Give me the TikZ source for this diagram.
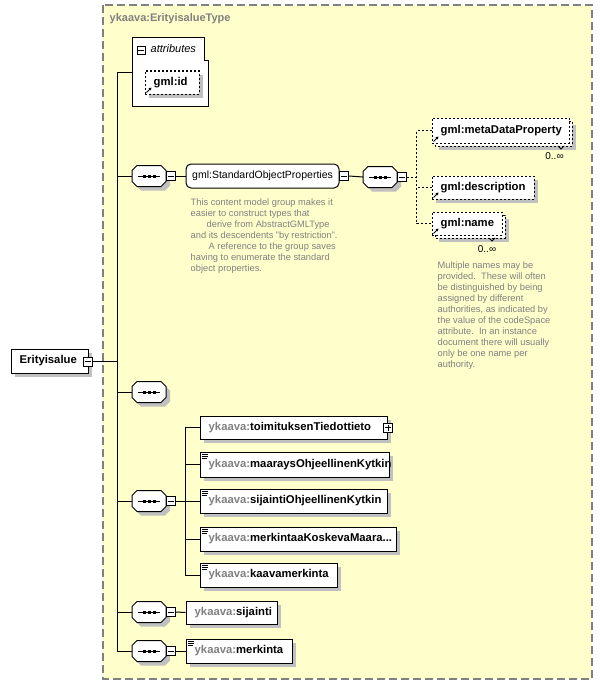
\documentclass[tikz,border=0pt]{standalone}
\usepackage{fontspec}
\setmainfont{Liberation Sans}
\usetikzlibrary{fit,arrows.meta}
\definecolor{bgy}{RGB}{255,255,204}
\definecolor{bord}{RGB}{128,128,128}
\definecolor{shd}{RGB}{192,192,192}
\definecolor{pfx}{RGB}{128,128,128}
\definecolor{doccol}{RGB}{128,128,128}
\tikzset{
  conn/.style={line width=1pt, black},
  dconn/.style={line width=1pt, black, dash pattern=on 2pt off 2pt},
  ebox/.style={draw, fill=white, line width=1pt, inner sep=0pt},
  dbox/.style={draw, fill=white, line width=1pt, inner sep=0pt, dash pattern=on 2pt off 2pt},
  lbl/.style={font=\fontsize{11.3}{13}\selectfont\bfseries, inner sep=0pt, text height=8.1pt, text depth=2.4pt, anchor=west},
  rlbl/.style={font=\fontsize{10.5}{12}\selectfont, inner sep=0pt, text height=7.6pt, text depth=2.2pt, anchor=west},
  ilbl/.style={font=\fontsize{11}{13}\selectfont\itshape, inner sep=0pt, text height=7.9pt, text depth=2.3pt, anchor=west},
  ttl/.style={font=\fontsize{11}{13}\selectfont\bfseries, text=pfx, inner sep=0pt, text height=7.9pt, text depth=2.3pt, anchor=west},
  doctxt/.style={font=\fontsize{9.3}{10.9}\selectfont, text=doccol, align=left, inner sep=0pt, anchor=north west},
  mult/.style={font=\fontsize{10}{12}\selectfont, inner sep=0pt},
  mbox/.style={draw, fill=white, line width=1pt, inner sep=0pt, minimum width=9pt, minimum height=9pt, anchor=west}
}
\newcommand\minbox[3]{%
  \node[mbox] (#1) at (#2,#3) {};
  \draw[line width=1pt] ([xshift=2pt]#1.west) -- ([xshift=-2pt]#1.east);}
\newcommand\seqc[3]{%
 \begin{scope}[shift={(#2,#3)}]
  \fill[shd] (-13,-1.5) -- (-8,-6.5) -- (16,-6.5) -- (21,-1.5) -- (21,9.5) -- (16,14.5) -- (-8,14.5) -- (-13,9.5) -- cycle;
  \draw[line width=1pt, fill=white] (-17,-5.5) -- (-12,-10.5) -- (12,-10.5) -- (17,-5.5) -- (17,5.5) -- (12,10.5) -- (-12,10.5) -- (-17,5.5) -- cycle;
  \draw[line width=1pt] (-11,0) -- (11,0);
  \fill (-6.5,-1.5) rectangle (-3.5,1.5);
  \fill (-1.5,-1.5) rectangle (1.5,1.5);
  \fill (3.5,-1.5) rectangle (6.5,1.5);
  \node[inner sep=0pt, minimum width=34pt, minimum height=21pt] (#1) at (0,0) {};
 \end{scope}}
\newcommand\elem[6]{%
  \fill[shd] ({#2+4},{#3+4}) rectangle ({#4+4},{#5+4});
  \node[ebox, fit={(#2,#3) (#4,#5)}] (#1) {};
  \node[lbl] (#1-t) at ({#2+8.5},{(#3+#5)/2}) {#6};}
\newcommand\delem[6]{%
  \fill[shd] ({#2+4},{#3+4}) rectangle ({#4+4},{#5+4});
  \node[dbox, fit={(#2,#3) (#4,#5)}] (#1) {};
  \node[lbl] (#1-t) at ({#2+8.5},{(#3+#5)/2}) {#6};
  \draw[line width=0.9pt, -{Triangle[length=2.6pt,width=2.8pt]}] ({#2+1.5},{#5-1.5}) -- ({#2+6.5},{#5-6.5});}
\newcommand\simpicon[2]{%
  \draw[line width=0.8pt] ({#1+2},{#2+2}) -- ({#1+8},{#2+2});
  \draw[line width=0.8pt] ({#1+2},{#2+4}) -- ({#1+8},{#2+4});
  \draw[line width=0.8pt] ({#1+2},{#2+6}) -- ({#1+6.5},{#2+6});}
\begin{document}
\begin{tikzpicture}[x=1pt,y=-1pt]
\useasboundingbox (0,0) rectangle (602,685);
\fill[white] (0,0) rectangle (602,685);
% complex type frame
\draw[bord, fill=bgy, line width=1.2pt, dash pattern=on 8pt off 4pt] (103,5) rectangle (592,679);
\node[ttl] (title) at (109.5,19) {ykaava:ErityisalueType};

% attributes
\draw[line width=1pt, fill=white] (132,38) -- (204,38) -- (204,61) -- (208,61) -- (208,106) -- (132,106) -- cycle;
\node[inner sep=0pt, fit={(132,38) (208,106)}] (attrbox) {};
\node[draw, line width=0.8pt, fill=white, minimum size=8pt, inner sep=0pt] (amin) at (141,50) {};
\draw[line width=0.8pt] ([xshift=1.5pt]amin.west) -- ([xshift=-1.5pt]amin.east);
\node[ilbl] (attrt) at (150.5,50) {attributes};
\delem{gid}{145}{71}{199}{94}{gml:id}

% root element
\elem{erit}{11}{349}{88}{373}{Erityisalue}
\minbox{emin}{83}{361.5}

% trunk
\coordinate (trtop) at (117,72);

% compositors
\seqc{c1}{149}{176}
\minbox{c1m}{166}{176}
\seqc{c2}{149}{392}
\seqc{c3}{149}{501}
\minbox{c3m}{166}{501}
\seqc{c4}{149}{612}
\minbox{c4m}{166}{612}
\seqc{c5}{149}{651}
\minbox{c5m}{166}{651}

\draw[conn] (attrbox.west) -- (trtop) |- (c5.west);
\draw[conn] (emin.east) -- (emin.east -| trtop);
\draw[conn] (c1.west) -- (c1.west -| trtop);
\draw[conn] (c2.west) -- (c2.west -| trtop);
\draw[conn] (c3.west) -- (c3.west -| trtop);
\draw[conn] (c4.west) -- (c4.west -| trtop);

% group StandardObjectProperties
\node[draw, fill=white, line width=1pt, rounded corners=5pt, inner sep=0pt, fit={(186,164) (339,188)}] (grp) {};
\node[rlbl] (grpt) at (192,176) {gml:StandardObjectProperties};
\minbox{gm}{339}{176}
\draw[conn] (c1m.east) -- (grp.west);
\node[doctxt] (gdoc) at (190.5,199) {This content model group makes it\\easier to construct types that\\\hspace*{16pt}derive from AbstractGMLType\\and its descendents "by restriction".\\\hspace*{18pt}A reference to the group saves\\having to enumerate the standard\\object properties.};

\seqc{ci}{380}{177}
\minbox{cim}{397}{177}
\draw[conn] (gm.east) -- (ci.west);

% metaDataProperty (multiple)
\fill[shd] (439,125) rectangle (576,150);
\draw[line width=1pt, fill=white, dash pattern=on 2pt off 2pt] (435,121) rectangle (572,146);
\draw[line width=0.8pt] (558,146) -- (561,149) -- (564,146);
\node[dbox, fit={(432,118) (569,143)}] (md) {};
\node[lbl] (mdt) at (440.5,130.5) {gml:metaDataProperty};
\draw[line width=0.9pt, -{Triangle[length=2.6pt,width=2.8pt]}] (433.5,141.5) -- (438.5,136.5);
\node[mult] (mdm) at (554.5,156) {0..∞};

% description
\delem{desc}{432}{176}{534}{199}{gml:description}

% name (multiple)
\fill[shd] (439,219) rectangle (509,242);
\draw[line width=1pt, fill=white, dash pattern=on 2pt off 2pt] (435,215) rectangle (505,238);
\draw[line width=0.8pt] (489,238) -- (492,241) -- (495,238);
\node[dbox, fit={(432,212) (502,235)}] (nm) {};
\node[lbl] (nmt) at (440.5,223.5) {gml:name};
\draw[line width=0.9pt, -{Triangle[length=2.6pt,width=2.8pt]}] (433.5,233.5) -- (438.5,228.5);
\node[mult] (nmm) at (487,249) {0..∞};

\draw[dconn] (cim.east) -- ++(10,0);
\draw[dconn] (md.west) -- ++(-15,0) |- (nm.west);
\draw[dconn] (desc.west) -- ++(-15,0);

\node[doctxt] (ndoc) at (437.5,262) {Multiple names may be\\provided.\ \ These will often\\be distinguished by being\\assigned by different\\authorities, as indicated by\\the value of the codeSpace\\attribute.\ \ In an instance\\document there will usually\\only be one name per\\authority.};

% choice children
\elem{b1}{200}{416}{387}{439}{{\color{pfx}ykaava:}toimituksenTiedottieto}
\node[mbox] (b1p) at (383,427.5) {};
\draw[line width=1pt] ([xshift=2pt]b1p.west) -- ([xshift=-2pt]b1p.east);
\draw[line width=1pt] ([yshift=2pt]b1p.south) -- ([yshift=-2pt]b1p.north);
\elem{b2}{200}{452}{389}{477}{{\color{pfx}ykaava:}maaraysOhjeellinenKytkin}
\simpicon{200}{452}
\elem{b3}{200}{489}{387}{513}{{\color{pfx}ykaava:}sijaintiOhjeellinenKytkin}
\simpicon{200}{489}
\elem{b4}{200}{527}{396}{551}{{\color{pfx}ykaava:}merkintaaKoskevaMaara...}
\simpicon{200}{527}
\elem{b5}{200}{563}{337}{587}{{\color{pfx}ykaava:}kaavamerkinta}
\simpicon{200}{563}

\draw[conn] (c3m.east) -- (b3.west);
\draw[conn] (b1.west) -- ++(-14,0) |- (b5.west);
\draw[conn] (b2.west) -- ++(-14,0);
\draw[conn] (b4.west) -- ++(-14,0);

% sijainti, merkinta
\elem{sij}{186}{601}{277}{624}{{\color{pfx}ykaava:}sijainti}
\draw[conn] (c4m.east) -- (sij.west);
\elem{merk}{186}{639}{292}{663}{{\color{pfx}ykaava:}merkinta}
\simpicon{186}{639}
\draw[conn] (c5m.east) -- (merk.west);
\end{tikzpicture}
\end{document}
